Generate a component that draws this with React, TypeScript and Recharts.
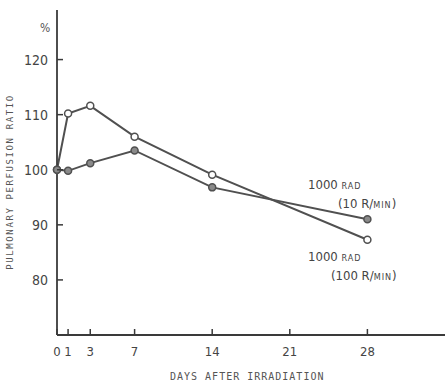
import React from "react";
import { LineChart, Line, XAxis, YAxis } from "recharts";

// days after irradiation
const days = [0, 1, 3, 7, 14, 28];
// 1000 rad at 100 R/min (open circles)
const highRate = [100, 110.2, 111.6, 106, 99.1, 87.3];
// 1000 rad at 10 R/min (filled circles)
const lowRate = [100, 99.8, 101.2, 103.5, 96.8, 91];
const xTicks = [0, 1, 3, 7, 14, 21, 28];
const yTicks = [80, 90, 100, 110, 120];

const data = days.map((d, i) => ({ day: d, high: highRate[i], low: lowRate[i] }));

const ink = "#3a3a3a";
const tickFont = "'DejaVu Sans Condensed', 'DejaVu Sans', sans-serif";
const monoFont = "'DejaVu Sans Mono', monospace";

const YTick = (props: any) => {
  const { x, y, payload } = props;
  return (
    <g>
      <line x1={x} x2={x + 6} y1={y} y2={y} stroke={ink} strokeWidth={1.5} />
      <text x={x - 9} y={y} dy={5} textAnchor="end" fontSize={14} fill="#444" fontFamily={tickFont}>
        {payload.value}
      </text>
    </g>
  );
};

const XTick = (props: any) => {
  const { x, y, payload } = props;
  return (
    <g>
      <line x1={x} x2={x} y1={y} y2={y - 6} stroke={ink} strokeWidth={1.5} />
      <text x={x} y={y + 21} textAnchor="middle" fontSize={13} fill="#444" fontFamily={tickFont}>
        {payload.value}
      </text>
    </g>
  );
};

const small = { fontSize: 9, letterSpacing: 1 };

export default function App() {
  return (
    <div style={{ position: "absolute", left: 0, top: 0, width: 445, height: 385, background: "#fff" }}>
      <LineChart width={445} height={385} data={data} margin={{ top: 10, right: 0, bottom: 0, left: 0 }}>
        <XAxis
          dataKey="day"
          type="number"
          domain={[0, 35]}
          ticks={xTicks}
          interval={0}
          height={50}
          tickSize={0}
          tickMargin={0}
          tickLine={false}
          tick={<XTick />}
          stroke={ink}
          strokeWidth={1.8}
        />
        <YAxis
          type="number"
          domain={[70, 129]}
          ticks={yTicks}
          interval={0}
          width={57}
          tickSize={0}
          tickMargin={0}
          tickLine={false}
          tick={<YTick />}
          stroke={ink}
          strokeWidth={1.8}
        />
        <Line
          dataKey="high"
          stroke="#505050"
          strokeWidth={2}
          dot={{ r: 3.5, fill: "#fff", stroke: "#505050", strokeWidth: 1.5 }}
          isAnimationActive={false}
        />
        <Line
          dataKey="low"
          stroke="#505050"
          strokeWidth={2}
          dot={{ r: 3.5, fill: "#8a8a8a", stroke: "#505050", strokeWidth: 1.5 }}
          isAnimationActive={false}
        />
      </LineChart>
      <div
        style={{
          position: "absolute",
          left: 10,
          top: 182,
          transform: "translate(-50%, -50%) rotate(-90deg)",
          whiteSpace: "nowrap",
          fontFamily: monoFont,
          fontSize: 9,
          letterSpacing: 1.6,
          color: "#555",
        }}
      >
        PULMONARY PERFUSION RATIO
      </div>
      <div
        style={{
          position: "absolute",
          left: 170,
          top: 371,
          whiteSpace: "nowrap",
          fontFamily: monoFont,
          fontSize: 10,
          letterSpacing: 1,
          color: "#555",
        }}
      >
        DAYS AFTER IRRADIATION
      </div>
      <div style={{ position: "absolute", left: 40, top: 21, fontSize: 12, color: "#555", fontFamily: tickFont }}>%</div>
      <div style={{ position: "absolute", left: 308, top: 176, fontFamily: tickFont, fontSize: 13, color: "#444", lineHeight: "18px", whiteSpace: "nowrap" }}>
        <div>
          1000 <span style={small}>RAD</span>
        </div>
        <div style={{ paddingLeft: 30 }}>
          (10 R/<span style={small}>MIN</span>)
        </div>
      </div>
      <div style={{ position: "absolute", left: 308, top: 248, fontFamily: tickFont, fontSize: 13, color: "#444", lineHeight: "18px", whiteSpace: "nowrap" }}>
        <div>
          1000 <span style={small}>RAD</span>
        </div>
        <div style={{ paddingLeft: 23 }}>
          (100 R/<span style={small}>MIN</span>)
        </div>
      </div>
    </div>
  );
}
